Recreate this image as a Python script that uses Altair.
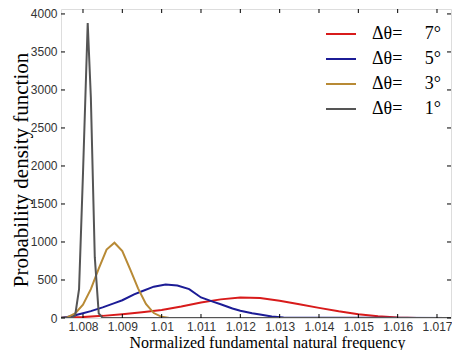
import altair as alt
import pandas as pd

# ---- data ----
series_names = ["Δθ=\u00a0\u00a0\u00a0\u00a0\u00a07°", "Δθ=\u00a0\u00a0\u00a0\u00a0\u00a05°",
                "Δθ=\u00a0\u00a0\u00a0\u00a0\u00a03°", "Δθ=\u00a0\u00a0\u00a0\u00a0\u00a01°"]
series_colors = ["#d81b1b", "#1c1c96", "#b88a35", "#555555"]

red_x = [1.0074, 1.0075, 1.0080, 1.0085, 1.0090, 1.0095, 1.0100, 1.0105, 1.0110, 1.0115,
         1.0120, 1.0125, 1.0130, 1.0135, 1.0140, 1.0145, 1.0150, 1.0155, 1.0160, 1.0165, 1.0175]
red_y = [0, 3, 12, 28, 50, 75, 105, 150, 205, 245,
         270, 262, 228, 182, 133, 88, 50, 22, 6, 1, 0]

blue_x = [1.0074, 1.0076, 1.0078, 1.0080, 1.0082, 1.0085, 1.0088, 1.0090, 1.0093, 1.0095,
          1.0098, 1.0101, 1.0104, 1.0107, 1.0110, 1.0113, 1.0115, 1.0118, 1.0120, 1.0123,
          1.0125, 1.0128, 1.0131, 1.0175]
blue_y = [0, 12, 35, 62, 90, 140, 195, 234, 310, 352,
          412, 440, 428, 380, 270, 215, 180, 125, 95, 62,
          45, 20, 5, 0]

gold_x = [1.0074, 1.0076, 1.0078, 1.0080, 1.0082, 1.0084, 1.0086, 1.0088, 1.0090, 1.0092,
          1.0094, 1.0096, 1.0098, 1.0100, 1.0102, 1.0175]
gold_y = [0, 8, 60, 175, 380, 650, 900, 990, 880, 640,
          390, 185, 65, 15, 0, 0]

gray_x = [1.0074, 1.0077, 1.0078, 1.0079, 1.0080, 1.00812, 1.0082, 1.0083, 1.0084, 1.0085, 1.0175]
gray_y = [0, 0, 30, 380, 1900, 3880, 2900, 800, 60, 0, 0]

x_ticks = [1.008, 1.009, 1.010, 1.011, 1.012, 1.013, 1.014, 1.015, 1.016, 1.017]
y_ticks = [0, 500, 1000, 1500, 2000, 2500, 3000, 3500, 4000]

rows = []
for name, xs_, ys_ in zip(series_names, [red_x, blue_x, gold_x, gray_x], [red_y, blue_y, gold_y, gray_y]):
    for i, (a, b) in enumerate(zip(xs_, ys_)):
        rows.append({"x": a, "y": b, "s": name, "i": i})
df = pd.DataFrame(rows)

W, H = 390, 309
xs = alt.Scale(domain=[1.007441, 1.017356], nice=False, zero=False)
ys = alt.Scale(domain=[0, 4065], nice=False)

x_axis = alt.Axis(
    values=x_ticks, format=".4~g", title="Normalized fundamental natural frequency",
    labelFont="Liberation Sans", labelFontSize=12, labelColor="#333333",
    ticks=False, tickSize=0, domain=False, grid=False, labelPadding=3, labelOverlap=False,
    titleFont="Liberation Serif", titleFontSize=16, titleFontWeight="normal",
    titleColor="black", titleX=206, titleY=29, titleBaseline="alphabetic")
y_axis = alt.Axis(
    values=y_ticks, format="d", title="Probability density function",
    labelFont="Liberation Sans", labelFontSize=12, labelColor="#333333",
    ticks=False, tickSize=0, domain=False, grid=False, labelPadding=4, labelOverlap=False,
    titleFont="Liberation Serif", titleFontSize=21, titleFontWeight="normal",
    titleColor="black", titleX=-34, titleY=H / 2 + 6, titleBaseline="alphabetic")

lines = alt.Chart(df).mark_line(strokeWidth=2, clip=True).encode(
    x=alt.X("x:Q", scale=xs, axis=x_axis),
    y=alt.Y("y:Q", scale=ys, axis=y_axis),
    color=alt.Color("s:N", scale=alt.Scale(domain=series_names, range=series_colors),
                    sort=series_names,
                    legend=alt.Legend(title=None, orient="none", legendX=264, legendY=9,
                                      symbolType="stroke", symbolSize=900, symbolStrokeWidth=2,
                                      labelFont="Liberation Serif", labelFontSize=18,
                                      labelColor="black", labelOffset=15, rowPadding=-4.5,
                                      padding=0)),
    order="i:Q",
)

xt = pd.DataFrame({"x": x_ticks})
yt = pd.DataFrame({"y": y_ticks})
tick_b = alt.Chart(xt).mark_rule(color="black").encode(
    x=alt.X("x:Q", scale=xs, axis=x_axis), y=alt.value(H), y2=alt.value(H - 4))
tick_t = alt.Chart(xt).mark_rule(color="black").encode(
    x=alt.X("x:Q", scale=xs, axis=x_axis), y=alt.value(0), y2=alt.value(4))
tick_l = alt.Chart(yt).mark_rule(color="black").encode(
    y=alt.Y("y:Q", scale=ys, axis=y_axis), x=alt.value(0), x2=alt.value(4))
tick_r = alt.Chart(yt).mark_rule(color="black").encode(
    y=alt.Y("y:Q", scale=ys, axis=y_axis), x=alt.value(W - 4), x2=alt.value(W))

chart = alt.layer(lines, tick_b, tick_t, tick_l, tick_r).properties(
    width=W, height=H,
    padding={"left": 53, "top": 1, "right": 1, "bottom": 32},
    autosize=alt.AutoSizeParams(type="none"),
).configure_view(stroke="black", strokeWidth=1).configure(background="white")

chart.save("out.html", embed_options={"renderer": "svg", "actions": False})
